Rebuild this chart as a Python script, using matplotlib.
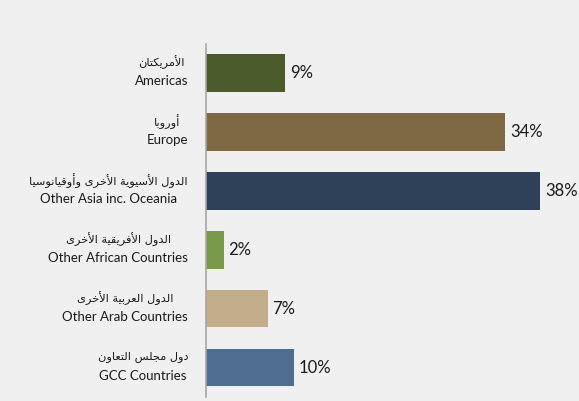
import matplotlib.pyplot as plt

# regions, top to bottom
arabic = ['الأمريكتان', 'أوروبا', 'الدول الأسيوية الأخرى وأوقيانوسيا',
          'الدول الأفريقية الأخرى', 'الدول العربية الأخرى', 'دول مجلس التعاون']
english = ['Americas', 'Europe', 'Other Asia inc. Oceania',
           'Other African Countries', 'Other Arab Countries', 'GCC Countries']
share = [9, 34, 38, 2, 7, 10]
colors = ['#4b5b2b', '#7f6944', '#2f4059', '#799a48', '#c4ad8b', '#4f6c93']

# presentation forms: isolated, final, initial, medial (None = does not join forward)
FORMS = {
    'ا': ('\uFE8D', '\uFE8E', None, None),
    'أ': ('\uFE83', '\uFE84', None, None),
    'ب': ('\uFE8F', '\uFE90', '\uFE91', '\uFE92'),
    'ة': ('\uFE93', '\uFE94', None, None),
    'ت': ('\uFE95', '\uFE96', '\uFE97', '\uFE98'),
    'ج': ('\uFE9D', '\uFE9E', '\uFE9F', '\uFEA0'),
    'خ': ('\uFEA5', '\uFEA6', '\uFEA7', '\uFEA8'),
    'د': ('\uFEA9', '\uFEAA', None, None),
    'ر': ('\uFEAD', '\uFEAE', None, None),
    'س': ('\uFEB1', '\uFEB2', '\uFEB3', '\uFEB4'),
    'ع': ('\uFEC9', '\uFECA', '\uFECB', '\uFECC'),
    'ف': ('\uFED1', '\uFED2', '\uFED3', '\uFED4'),
    'ق': ('\uFED5', '\uFED6', '\uFED7', '\uFED8'),
    'ك': ('\uFED9', '\uFEDA', '\uFEDB', '\uFEDC'),
    'ل': ('\uFEDD', '\uFEDE', '\uFEDF', '\uFEE0'),
    'م': ('\uFEE1', '\uFEE2', '\uFEE3', '\uFEE4'),
    'ن': ('\uFEE5', '\uFEE6', '\uFEE7', '\uFEE8'),
    'و': ('\uFEED', '\uFEEE', None, None),
    'ى': ('\uFEEF', '\uFEF0', None, None),
    'ي': ('\uFEF1', '\uFEF2', '\uFEF3', '\uFEF4'),
    'لا': ('\uFEFB', '\uFEFC', None, None),
    'لأ': ('\uFEF7', '\uFEF8', None, None),
}


def shape(text):
    chars = []
    i = 0
    while i < len(text):
        if text[i] == 'ل' and i + 1 < len(text) and text[i + 1] in 'اأ':
            chars.append(text[i:i + 2])
            i += 2
        else:
            chars.append(text[i])
            i += 1
    out = []
    for k, c in enumerate(chars):
        if c not in FORMS:
            out.append(c)
            continue
        prev = chars[k - 1] if k > 0 else None
        nxt = chars[k + 1] if k + 1 < len(chars) else None
        jp = prev in FORMS and FORMS[prev][2] is not None
        jn = FORMS[c][2] is not None and nxt in FORMS
        idx = {(False, False): 0, (True, False): 1, (False, True): 2, (True, True): 3}[(jp, jn)]
        out.append(FORMS[c][idx])
    return ''.join(out)[::-1]


fig = plt.figure(figsize=(5.79, 4.01), dpi=100, facecolor='#f0f0f0')
ax = fig.add_axes([206 / 579, 4 / 401, 352 / 579, 353.5 / 401])
ax.set_facecolor('#f0f0f0')

pos = list(range(len(share)))
ax.barh(pos, share, height=0.64, color=colors)
for p, v in zip(pos, share):
    ax.text(v + 0.55, p, f'{v}%', va='center', ha='left', fontsize=12,
            family='Lato', color='#1a1a1a')

ax.set_xlim(0, 40)
ax.set_ylim(len(share) - 0.5, -0.5)
ax.set_xticks([])
ax.set_yticks([])

# two-line category labels: arabic above english, lines centred, block right-aligned
renderer = fig.canvas.get_renderer()
for p, a, e in zip(pos, arabic, english):
    ta = ax.annotate(shape(a), xy=(0, p), xycoords=('axes fraction', 'data'),
                     xytext=(0, 7.6), textcoords='offset points', ha='center',
                     va='center', family='DejaVu Sans', fontsize=8.2, color='#1a1a1a')
    te = ax.annotate(e, xy=(0, p), xycoords=('axes fraction', 'data'),
                     xytext=(0, -5.8), textcoords='offset points', ha='center',
                     va='center', family='Lato', fontsize=9.5, color='#1a1a1a')
    w = max(ta.get_window_extent(renderer).width, te.get_window_extent(renderer).width)
    dx = -(18 + w / 2) * 0.72
    ta.xyann = (dx, 7.6)
    te.xyann = (dx, -5.8)

for s in ['top', 'right', 'bottom']:
    ax.spines[s].set_visible(False)
ax.spines['left'].set_color('#a6a6a6')
ax.spines['left'].set_linewidth(1.2)

fig.savefig('out.png', dpi=100, facecolor=fig.get_facecolor())
